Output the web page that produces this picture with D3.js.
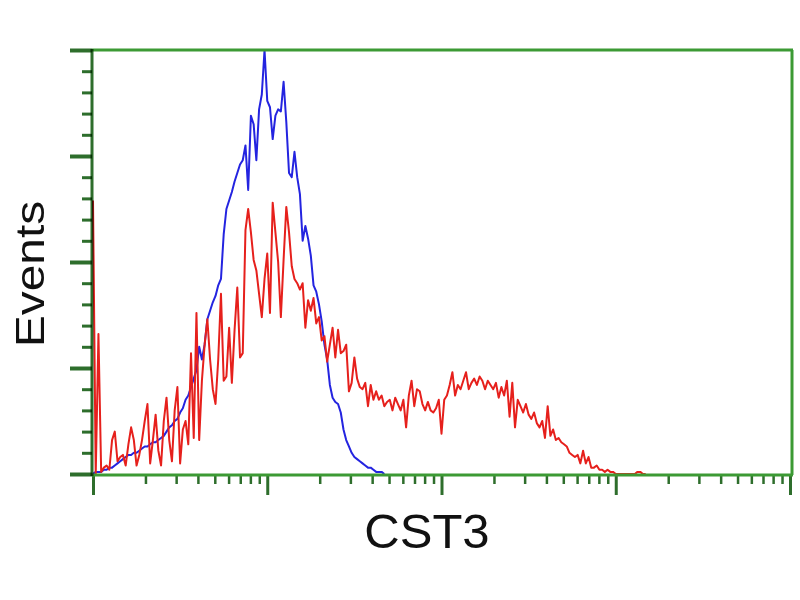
<!DOCTYPE html>
<html>
<head>
<meta charset="utf-8">
<script src="https://cdn.jsdelivr.net/npm/d3@7"></script>
<style>
  body { margin: 0; background: #fff; }
  text { font-family: "Liberation Sans", Arial, sans-serif; fill: #111; }
</style>
</head>
<body>
<script>
/*
* Dati: conteggi per canale (256 canali su 4 decadi logaritmiche)
*/
var xDomain = [1, 10000];
var yDomain = [0, 200];
var yMajor = [0, 50, 100, 150, 200];
var xLabel = "CST3";
var yLabel = "Events";

// controllo isotipo (blu)
var blueCounts = [0, 1, 1, 1, 2, 2, 3, 3, 4, 5, 6, 7, 8, 9, 9, 10, 10, 11, 12, 13,
  13, 14, 15, 15, 16, 17, 18, 20, 22, 23, 25, 26, 29, 31, 35, 37, 41, 45, 49, 60,
  54, 61, 73, 77, 81, 84, 89, 92, 113, 125, 129, 133, 138, 142, 146, 148, 155, 134, 169, 165,
  148, 172, 179, 200, 176, 173, 158, 169, 172, 171, 185, 166, 142, 140, 152, 140, 132, 110, 117, 111,
  103, 89, 86, 80, 72, 61, 54, 42, 36, 34, 33, 29, 21, 16, 13, 10, 8, 7, 6, 5,
  4, 3, 3, 2, 1, 1, 1, 0];

// anticorpo CST3 (rosso)
var redCounts = [129, 0, 66, 1, 3, 4, 2, 16, 20, 6, 8, 9, 4, 14, 22, 16, 4, 9, 16, 25,
  33, 5, 16, 28, 11, 4, 25, 36, 16, 6, 30, 41, 5, 21, 25, 14, 57, 17, 76, 16,
  44, 61, 73, 54, 40, 33, 54, 85, 44, 46, 69, 43, 68, 88, 55, 57, 115, 125, 114, 101,
  96, 85, 74, 92, 104, 76, 128, 114, 100, 74, 101, 126, 114, 98, 92, 90, 87, 90, 69, 82,
  77, 83, 71, 74, 63, 65, 53, 61, 69, 55, 68, 57, 58, 61, 39, 43, 55, 45, 41, 40,
  43, 32, 42, 35, 39, 35, 37, 32, 34, 35, 30, 36, 33, 30, 35, 22, 37, 44, 32, 40,
  39, 33, 30, 34, 30, 29, 31, 35, 19, 35, 37, 42, 48, 37, 42, 40, 44, 48, 40, 43,
  45, 42, 46, 44, 40, 44, 42, 40, 43, 36, 41, 37, 44, 27, 43, 22, 35, 32, 29, 33,
  28, 26, 29, 24, 22, 25, 17, 32, 18, 21, 16, 17, 15, 14, 13, 10, 9, 8, 9, 5,
  11, 5, 8, 3, 3, 4, 2, 2, 1, 2, 1, 1, 0, 0, 0, 0, 0, 0, 0, 0,
  1, 1, 0, 0];

var nChannels = 256;

var svg = d3.select("body").append("svg")
    .attr("width", 800)
    .attr("height", 600);

var x = d3.scaleLog().domain(xDomain).range([93, 790]);
var y = d3.scaleLinear().domain(yDomain).range([474, 50]);

// canale -> intensità (scala log dello strumento)
function chToValue(ch) {
    return Math.pow(10, Math.log10(xDomain[1]) * ch / nChannels);
}

var green = "#3c9a34";
var darkGreen = "#2e6e2c";

/*
* Assi: tacche maggiori e minori
*/
var yMinor = d3.range(yDomain[0], yDomain[1] + 1, 10).filter(function(v) { return yMajor.indexOf(v) < 0; });
var xMajorT = [1, 10, 100, 1000, 10000];
var xMinorT = [];
for (var d = 1; d < 10000; d *= 10) {
    for (var k = 2; k < 10; k++) xMinorT.push(d * k);
}

function styleAxis(g, w) {
    g.select(".domain").remove();
    g.selectAll(".tick line").attr("stroke", darkGreen).attr("stroke-width", w);
    g.selectAll(".tick text").remove();
}

svg.append("g").attr("transform", "translate(92,0)")
    .call(d3.axisLeft(y).tickValues(yMinor).tickSize(10).tickFormat(""))
    .call(styleAxis, 3);
svg.append("g").attr("transform", "translate(92,0)")
    .call(d3.axisLeft(y).tickValues(yMajor).tickSize(22).tickFormat(""))
    .call(styleAxis, 4);
svg.append("g").attr("transform", "translate(0,475)")
    .call(d3.axisBottom(x).tickValues(xMinorT).tickSize(9).tickFormat(""))
    .call(styleAxis, 2.5);
svg.append("g").attr("transform", "translate(0,475)")
    .call(d3.axisBottom(x).tickValues(xMajorT).tickSize(20).tickFormat(""))
    .call(styleAxis, 3);

/*
* Istogrammi
*/
var line = d3.line()
    .x(function(d, i) { return x(chToValue(i)); })
    .y(function(d) { return y(d); });

svg.append("path").datum(blueCounts)
    .attr("fill", "none")
    .attr("stroke", "#2424e0")
    .attr("stroke-width", 2)
    .attr("stroke-linejoin", "round")
    .attr("d", line);

svg.append("path").datum(redCounts)
    .attr("fill", "none")
    .attr("stroke", "#e6201c")
    .attr("stroke-width", 2)
    .attr("stroke-linejoin", "round")
    .attr("d", line);

/*
* Cornice verde
*/
svg.append("line").attr("x1", 92).attr("x2", 793).attr("y1", 50).attr("y2", 50)
    .attr("stroke", green).attr("stroke-width", 3);
svg.append("line").attr("x1", 792).attr("x2", 792).attr("y1", 50).attr("y2", 475)
    .attr("stroke", green).attr("stroke-width", 3);
svg.append("line").attr("x1", 92).attr("x2", 793).attr("y1", 475).attr("y2", 475)
    .attr("stroke", green).attr("stroke-width", 3);
svg.append("line").attr("x1", 92).attr("x2", 92).attr("y1", 49).attr("y2", 476)
    .attr("stroke", darkGreen).attr("stroke-width", 3)
    .style("mix-blend-mode", "multiply");

/*
* Etichette
*/
svg.append("text")
    .attr("x", 427).attr("y", 548)
    .attr("text-anchor", "middle")
    .style("font-size", "49px")
    .text(xLabel);

svg.append("text")
    .attr("transform", "translate(44,274) rotate(-90) scale(1,0.86)")
    .attr("text-anchor", "middle")
    .style("font-size", "48px")
    .text(yLabel);
</script>
</body>
</html>
